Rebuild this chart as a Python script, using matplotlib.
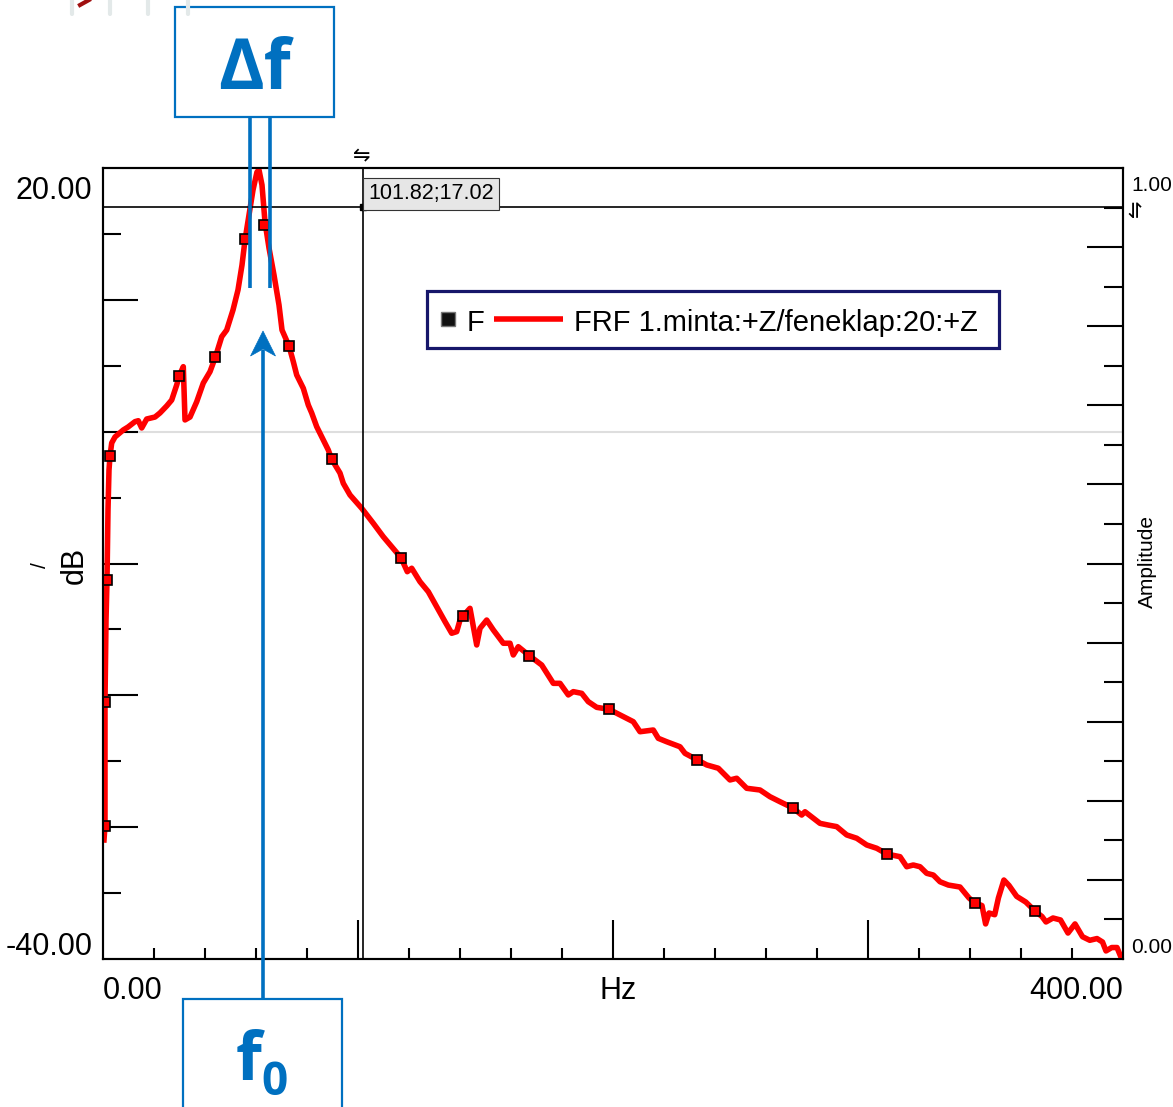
import matplotlib
matplotlib.use("Agg")
import matplotlib.pyplot as plt
from matplotlib.patches import Rectangle, Polygon

# ---------------- data ----------------
freq_hz = [0.39, 0.78, 0.78, 1.18, 1.57, 1.96, 2.35, 2.75, 3.41, 4.71,
           7.96, 9.80, 12.55, 13.84, 15.18, 17.14, 20.39, 22.35, 24.98, 26.94,
           28.90, 29.92, 31.49, 32.16, 34.12, 36.75, 39.33, 41.96, 44.04, 46.55,
           48.51, 50.98, 52.94, 54.51, 55.69, 57.25, 58.82, 60.39, 61.18, 62.35,
           63.53, 65.10, 67.06, 69.02, 70.20, 72.94, 74.63, 75.96, 78.55, 80.51,
           81.84, 83.80, 86.39, 88.35, 89.69, 92.94, 94.24, 96.86, 101.45, 106.00,
           109.92, 113.22, 116.86, 119.33, 121.06, 124.31, 127.57, 130.86, 134.12, 136.75,
           138.71, 140.00, 141.29, 143.92, 146.55, 147.84, 150.47, 153.06, 156.98, 159.61,
           160.90, 162.86, 167.18, 172.04, 176.59, 179.22, 182.47, 184.43, 187.73, 190.31,
           193.61, 198.43, 202.75, 207.96, 210.59, 215.80, 217.76, 221.06, 226.27, 228.24,
           233.06, 236.75, 241.29, 245.88, 248.51, 252.43, 257.65, 261.57, 265.49, 270.59,
           274.00, 275.29, 281.18, 284.43, 287.73, 291.65, 295.57, 299.49, 303.41, 307.45,
           312.55, 315.18, 317.76, 320.39, 323.02, 325.61, 328.24, 331.49, 336.08, 339.61,
           341.80, 344.71, 346.12, 347.45, 349.69, 351.14, 353.29, 355.29, 358.31, 361.88,
           365.49, 368.24, 369.80, 372.55, 375.49, 378.43, 381.18, 384.12, 386.98, 389.80,
           391.96, 393.33, 395.57, 397.65, 399.14]
mag_db = [-30.97, -29.91, -20.51, -14.29, -11.25, -5.94, -2.91, -1.85, -0.86, -0.40,
          0.13, 0.35, 0.76, 0.83, 0.28, 0.96, 1.11, 1.42, 1.95, 2.40,
          3.54, 4.25, 4.93, 0.89, 1.11, 2.27, 3.69, 4.55, 5.64, 7.20,
          7.71, 9.23, 10.75, 12.64, 14.54, 16.43, 18.33, 19.70, 19.85, 18.71,
          15.90, 13.93, 11.88, 9.61, 7.71, 6.50, 5.31, 4.30, 3.29, 2.02,
          1.42, 0.38, -0.63, -1.39, -2.10, -3.14, -3.92, -4.80, -5.81, -6.95,
          -7.97, -8.73, -9.56, -10.62, -10.36, -11.38, -12.14, -13.28, -14.41, -15.29,
          -15.17, -14.29, -13.96, -13.40, -16.18, -14.92, -14.29, -15.04, -16.05, -16.05,
          -16.94, -16.31, -16.99, -17.70, -19.09, -19.09, -19.97, -19.72, -19.85, -20.48,
          -20.91, -21.06, -21.49, -22.00, -22.76, -22.63, -23.26, -23.52, -23.90, -24.40,
          -24.90, -25.28, -25.53, -26.42, -26.29, -27.05, -27.18, -27.69, -28.07, -28.55,
          -29.08, -28.83, -29.71, -29.84, -29.96, -30.59, -30.84, -31.35, -31.60, -32.04,
          -32.24, -33.00, -32.87, -33.00, -33.50, -33.63, -34.14, -34.39, -34.54, -35.37,
          -35.73, -35.95, -37.34, -36.51, -36.64, -35.37, -34.01, -34.42, -35.25, -35.68,
          -36.36, -36.78, -37.19, -36.89, -37.04, -38.03, -37.34, -38.31, -38.58, -38.45,
          -38.71, -39.39, -39.13, -39.13, -39.83]

marker_hz = [0.78, 0.78, 1.57, 2.75, 29.92, 44.04, 55.50, 63.30, 73.06, 89.69,
             116.86, 141.29, 167.18, 198.43, 233.06, 270.59, 307.45, 341.80, 365.49]
marker_db = [-29.91, -20.51, -11.25, -1.85, 4.25, 5.64, 14.60, 15.68, 6.52, -2.10,
             -9.56, -13.96, -16.99, -21.06, -24.90, -28.55, -32.04, -35.73, -36.36]

cursor_hz = 101.82
cursor_db = 17.02

x_range = [0.0, 400.0]
y_range = [-40.0, 20.0]
amp_range = [0.0, 1.0]
x_major = [100, 200, 300]
x_minor = [20, 40, 60, 80, 120, 140, 160, 180, 220, 240, 260, 280, 320, 340, 360, 380]
y_major = [-30, -20, -10, 0, 10]
y_minor = [-35, -25, -15, -5, 5, 15]
amp_major = [0.1, 0.2, 0.3, 0.4, 0.5, 0.6, 0.7, 0.8, 0.9]
amp_minor = [0.05, 0.15, 0.25, 0.35, 0.45, 0.55, 0.65, 0.75, 0.85, 0.95]

series_name = "FRF 1.minta:+Z/feneklap:20:+Z"
marker_name = "F"

# ---------------- figure ----------------
W, H, DPI = 1173, 1107, 100
plt.rcParams['font.family'] = ['Liberation Sans', 'DejaVu Sans']
fig = plt.figure(figsize=(W / DPI, H / DPI), dpi=DPI)
fig.patch.set_facecolor('white')

RED = '#ff0000'
BLUE = '#0070c0'

ax = fig.add_axes([103 / W, 1 - 959 / H, 1020 / W, 791 / H])
ax.set_xlim(*x_range)
ax.set_ylim(*y_range)
ax.axhline(0, color='#dedede', lw=1.5, zorder=1)
ax.plot(freq_hz, mag_db, color=RED, lw=4.0, zorder=3)
ax.plot(marker_hz, marker_db, ls='none', marker='s', ms=6.8, mfc=RED,
        mec='black', mew=1.2, zorder=4)

# cursor
ax.axvline(cursor_hz, color='black', lw=1.2, zorder=5)
ax.axhline(cursor_db, color='black', lw=1.2, zorder=5)
ax.plot([cursor_hz], [cursor_db], marker='s', ms=5, color='black', zorder=6)
ax.annotate(f"{cursor_hz:.2f};{cursor_db:.2f}", xy=(cursor_hz, cursor_db),
            xytext=(4.2, 9.7), textcoords='offset points', ha='left', va='center',
            fontsize=15.5, zorder=7,
            bbox=dict(boxstyle='square,pad=0.25', fc='#e6e6e6', ec='#333333', lw=0.8))

ax.set_xticks(x_major)
ax.set_xticks(x_minor, minor=True)
ax.set_yticks(y_major)
ax.set_yticks(y_minor, minor=True)
ax.tick_params(axis='x', which='major', direction='in', length=28, width=1.5,
               labelbottom=False, top=False)
ax.tick_params(axis='x', which='minor', direction='in', length=8, width=1.5, top=False)
ax.tick_params(axis='y', which='major', direction='in', length=25, width=1.5,
               labelleft=False, right=False)
ax.tick_params(axis='y', which='minor', direction='in', length=13, width=1.5, right=False)
for s in ax.spines.values():
    s.set_linewidth(1.5)

ax2 = ax.twinx()
ax2.set_ylim(*amp_range)
ax2.set_yticks(amp_major)
ax2.set_yticks(amp_minor, minor=True)
ax2.tick_params(axis='y', which='major', direction='in', length=26, width=1.5,
                labelright=False)
ax2.tick_params(axis='y', which='minor', direction='in', length=14, width=1.5)
for s in ax2.spines.values():
    s.set_linewidth(1.5)

# ---------------- overlay (pixel coordinates) ----------------
ov = fig.add_axes([0, 0, 1, 1], zorder=10)
ov.set_xlim(0, W)
ov.set_ylim(H, 0)
ov.axis('off')
ov.patch.set_alpha(0)

# axis texts
ov.text(92, 199, f"{y_range[1]:.2f}", ha='right', va='baseline', fontsize=22)
ov.text(93, 955, f"{y_range[0]:.2f}", ha='right', va='baseline', fontsize=22)
ov.text(103, 999, f"{x_range[0]:.2f}", ha='left', va='baseline', fontsize=22)
ov.text(618, 999, "Hz", ha='center', va='baseline', fontsize=22)
ov.text(1123, 999, f"{x_range[1]:.2f}", ha='right', va='baseline', fontsize=22)
ov.text(1131, 191, f"{amp_range[1]:.2f}", ha='left', va='baseline', fontsize=15)
ov.text(1131, 953, f"{amp_range[0]:.2f}", ha='left', va='baseline', fontsize=15)
ov.text(1147, 562, "Amplitude", rotation=90, ha='center', va='center', fontsize=15)
ov.text(75, 565, "dB", rotation=90, ha='center', va='center', fontsize=22)
ov.text(40, 565, "/", rotation=90, ha='center', va='center', fontsize=15)
ov.text(362, 156, "\u21cb", ha='center', va='center', fontsize=15,
        family=['DejaVu Sans'])
ov.text(1136, 208, "\u21cb", rotation=90, ha='center', va='center', fontsize=15,
        family=['DejaVu Sans'])

# legend (manual)
ov.add_patch(Rectangle((427, 291), 572, 57, fc='white', ec='#16166a', lw=2.3))
ov.plot([448], [319], marker='s', ms=10, mfc='#111111', mec='#777777', mew=1.0)
ov.text(467, 331, marker_name, ha='left', va='baseline', fontsize=21)
ov.plot([494, 563], [319, 319], color=RED, lw=4.0, solid_capstyle='butt')
ov.text(574, 331, series_name, ha='left', va='baseline', fontsize=21)

# Δf box with two lines
ov.add_patch(Rectangle((175, 7), 159, 110, fc='white', ec=BLUE, lw=1.6))
ov.text(254, 89, "\u0394f", ha='center', va='baseline', fontsize=50,
        fontweight='bold', color=BLUE, family=['Open Sans', 'DejaVu Sans'])
ov.plot([250, 250], [118, 288], color=BLUE, lw=2.6, solid_capstyle='butt')
ov.plot([270, 270], [118, 288], color=BLUE, lw=2.6, solid_capstyle='butt')

# f0 box with arrow
ov.add_patch(Rectangle((183, 999), 159, 130, fc='white', ec=BLUE, lw=1.6,
                       clip_on=False))
ov.plot([263, 263], [999, 350], color=BLUE, lw=2.6, solid_capstyle='butt')
ov.add_patch(Polygon([(263, 331), (250.5, 356), (263, 349), (275.5, 356)],
                     closed=True, fc=BLUE, ec=BLUE, lw=0.5))
ov.text(236, 1080, "f", ha='left', va='baseline', fontsize=48, fontweight='bold',
        color=BLUE, family=['Open Sans', 'DejaVu Sans'])
ov.text(261, 1095, "0", ha='left', va='baseline', fontsize=33, fontweight='bold',
        color=BLUE, family=['Open Sans', 'DejaVu Sans'])

# faint remnants at top-left of the picture
for gx in (72, 110, 148, 188):
    ov.plot([gx, gx], [0, 14], color='#e3e9e9', lw=3, solid_capstyle='round')
ov.plot([80, 89], [5, 0], color='#a01010', lw=3)

fig.savefig("out.png", dpi=DPI, facecolor='white')
